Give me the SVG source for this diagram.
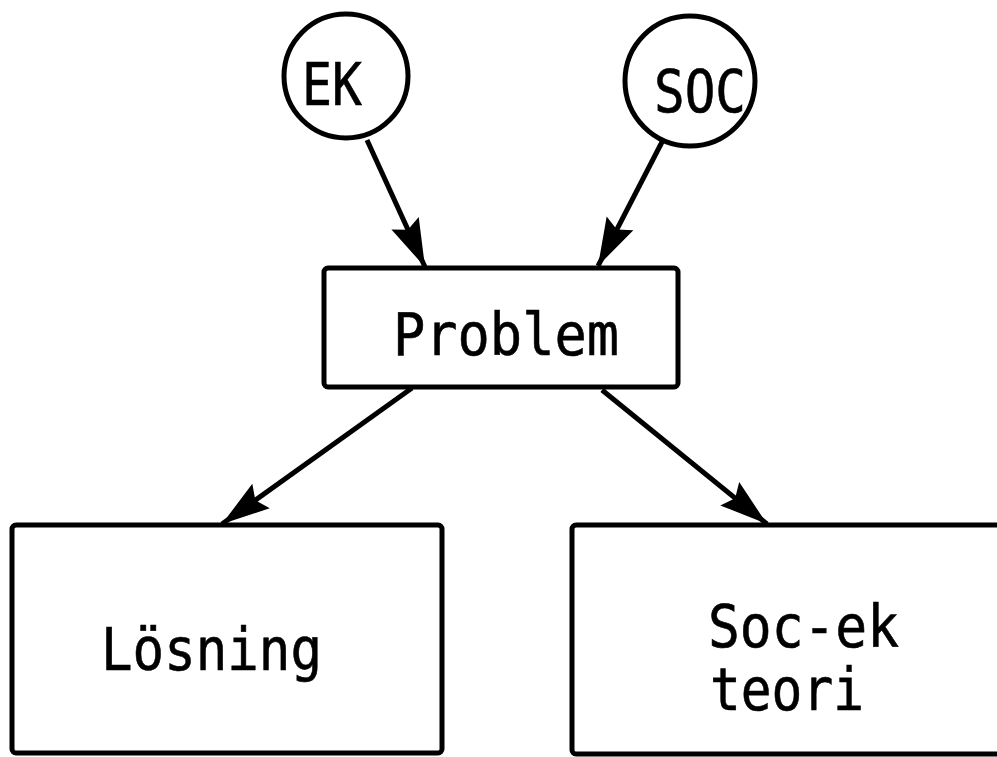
<svg xmlns="http://www.w3.org/2000/svg" width="997" height="757" viewBox="0 0 997 757">
<style>
.n{fill:#fff;stroke:#000;stroke-width:5}
.t{font-family:"DejaVu Sans Mono","Liberation Mono",monospace;font-size:58px;fill:#000;stroke:#000;stroke-width:0.6}
.c{stroke:#000;stroke-width:5;fill:none}
</style>
<defs>
<marker id="ah" markerUnits="userSpaceOnUse" markerWidth="64" markerHeight="44" viewBox="-54 -22 64 44" refX="0" refY="0" orient="auto">
<path d="M0,0 L-48,-15 L-41,0 L-48,15 Z" fill="#000"/>
</marker>
</defs>
<rect width="997" height="757" fill="#fff"/>
<g id="connectors">
<line class="c" x1="367" y1="140" x2="425" y2="267" marker-end="url(#ah)"/>
<line class="c" x1="662" y1="142" x2="598" y2="266" marker-end="url(#ah)"/>
<line class="c" x1="412" y1="388" x2="222" y2="524" marker-end="url(#ah)"/>
<line class="c" x1="602" y1="390" x2="767" y2="524" marker-end="url(#ah)"/>
</g>
<g id="ek">
<circle class="n" cx="346" cy="76" r="62"/>
<text class="t" x="302" y="105" textLength="60" lengthAdjust="spacingAndGlyphs">EK</text>
</g>
<g id="soc">
<circle class="n" cx="690" cy="81" r="65"/>
<text class="t" x="654" y="112" textLength="92" lengthAdjust="spacingAndGlyphs">SOC</text>
</g>
<g id="problem">
<rect class="n" x="324" y="268" width="354" height="119" rx="4"/>
<text class="t" x="393" y="355" textLength="226" lengthAdjust="spacingAndGlyphs">Problem</text>
</g>
<g id="losning">
<rect class="n" x="12" y="525" width="430" height="228" rx="4"/>
<text class="t" x="101" y="670" textLength="221" lengthAdjust="spacingAndGlyphs">Lösning</text>
</g>
<g id="socek">
<rect class="n" x="572" y="525" width="440" height="229" rx="4"/>
<text class="t" x="708" y="647" textLength="191" lengthAdjust="spacingAndGlyphs">Soc-ek</text>
<text class="t" x="710" y="710" textLength="154" lengthAdjust="spacingAndGlyphs">teori</text>
</g>
</svg>
